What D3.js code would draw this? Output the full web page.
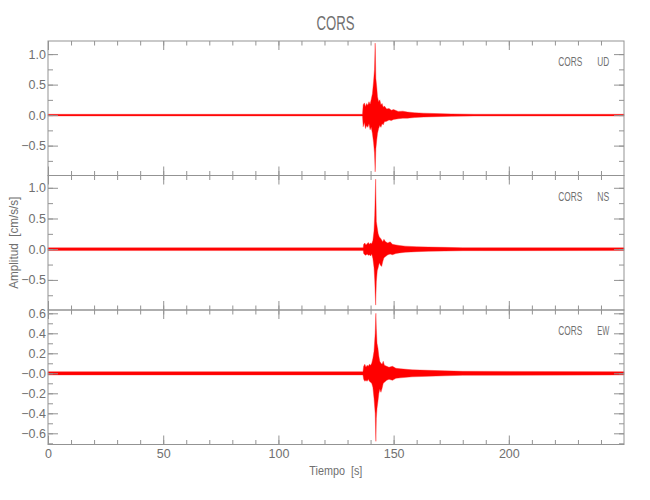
<!DOCTYPE html>
<html><head><meta charset="utf-8">
<script src="https://cdn.jsdelivr.net/npm/d3@7"></script>
<style>
body{margin:0;background:#fff}
text{font-family:"Liberation Sans Narrow","Liberation Sans",sans-serif;fill:#707070}
</style>
</head><body><svg id="c" width="650" height="500"></svg>
<script>
// ---------- data ----------
const title = "CORS";
const station = "CORS";
const channels = ["UD", "NS", "EW"];
const xLabel = "Tiempo  [s]";
const yLabel = "Amplitud  [cm/s/s]";
const xDomain = [0, 249.99];
const xMajorTicks = [0, 50, 100, 150, 200];
const xMajorLabels = ["0", "50", "100", "150", "200"];
const xMinorTicks = [0,10,20,30,40,50,60,70,80,90,100,110,120,130,140,150,160,170,180,190,200,210,220,230,240];

const yDomainUD = [-0.99, 1.215];
const yDomainNS = [-0.99, 1.2];
const yDomainEW = [-0.712, 0.633];
const yMajorUD = [-0.5, 0, 0.5, 1.0];
const yLabelsUD = ["\u22120.5", "0.0", "0.5", "1.0"];
const yMinorUD = [-0.75, -0.5, -0.25, 0, 0.25, 0.5, 0.75, 1.0];
const yMajorNS = [-0.5, 0, 0.5, 1.0];
const yLabelsNS = ["\u22120.5", "0.0", "0.5", "1.0"];
const yMinorNS = [-0.75, -0.5, -0.25, 0, 0.25, 0.5, 0.75, 1.0];
const yMajorEW = [-0.6, -0.4, -0.2, 0, 0.2, 0.4, 0.6];
const yLabelsEW = ["\u22120.6", "\u22120.4", "\u22120.2", "\u22120.0", "0.2", "0.4", "0.6"];
const yMinorEW = [-0.7, -0.6, -0.5, -0.4, -0.3, -0.2, -0.1, 0, 0.1, 0.2, 0.3, 0.4, 0.5, 0.6];

// trace envelopes (time [s], upper, lower) read from the record
const tUD  = [0, 136.5, 136.8, 137.3, 137.8, 138.3, 138.8, 139.3, 139.8, 140.3, 140.8, 141.3, 141.7, 142.0, 142.3, 142.7, 143.0, 143.5, 144.0, 144.5, 145.0, 145.5, 146.0, 147.0, 148.0, 149.0, 150.0, 152.0, 154.0, 156.0, 159.0, 163.0, 168.0, 175.0, 185.0, 249.99];
const hiUD = [0.013, 0.013, 0.17, 0.20, 0.14, 0.19, 0.16, 0.22, 0.18, 0.26, 0.35, 0.55, 0.75, 1.18, 0.60, 0.45, 0.30, 0.22, 0.25, 0.17, 0.19, 0.13, 0.15, 0.10, 0.11, 0.08, 0.09, 0.06, 0.065, 0.05, 0.04, 0.032, 0.026, 0.02, 0.014, 0.013];
const loUD = [-0.013, -0.013, -0.19, -0.12, -0.22, -0.17, -0.20, -0.14, -0.24, -0.20, -0.30, -0.45, -0.62, -0.93, -0.55, -0.40, -0.30, -0.22, -0.17, -0.20, -0.14, -0.16, -0.11, -0.10, -0.08, -0.09, -0.07, -0.06, -0.05, -0.05, -0.04, -0.032, -0.026, -0.02, -0.014, -0.013];

const tNS  = [0, 136.8, 137.0, 137.5, 138.0, 138.5, 139.0, 139.5, 140.0, 140.5, 141.0, 141.5, 141.8, 142.2, 142.5, 142.9, 143.3, 143.8, 144.3, 144.8, 145.3, 145.8, 146.5, 147.5, 148.5, 149.5, 151.0, 152.5, 155.0, 160.0, 165.0, 172.0, 180.0, 249.99];
const hiNS = [0.022, 0.022, 0.08, 0.10, 0.07, 0.09, 0.11, 0.08, 0.10, 0.09, 0.14, 0.30, 0.55, 1.14, 0.45, 0.35, 0.25, 0.20, 0.18, 0.15, 0.12, 0.16, 0.12, 0.10, 0.12, 0.08, 0.07, 0.06, 0.05, 0.04, 0.035, 0.03, 0.024, 0.022];
const loNS = [-0.022, -0.022, -0.07, -0.09, -0.10, -0.08, -0.10, -0.09, -0.11, -0.08, -0.15, -0.30, -0.50, -0.91, -0.53, -0.35, -0.30, -0.22, -0.26, -0.28, -0.20, -0.14, -0.12, -0.09, -0.08, -0.09, -0.07, -0.06, -0.05, -0.04, -0.035, -0.03, -0.024, -0.022];

const tEW  = [0, 136.7, 137.0, 137.5, 138.0, 138.5, 139.0, 139.5, 140.0, 140.5, 141.0, 141.5, 142.0, 142.3, 142.5, 142.8, 143.2, 143.6, 144.0, 144.5, 145.0, 145.5, 146.0, 147.0, 148.0, 149.5, 151.0, 153.0, 158.0, 165.0, 172.0, 180.0, 249.99];
const hiEW = [0.016, 0.016, 0.07, 0.09, 0.06, 0.08, 0.07, 0.09, 0.08, 0.10, 0.15, 0.22, 0.40, 0.60, 0.45, 0.30, 0.25, 0.17, 0.12, 0.10, 0.09, 0.12, 0.08, 0.07, 0.06, 0.07, 0.05, 0.045, 0.035, 0.03, 0.025, 0.02, 0.016];
const loEW = [-0.016, -0.016, -0.06, -0.08, -0.07, -0.08, -0.06, -0.08, -0.09, -0.10, -0.14, -0.25, -0.40, -0.68, -0.45, -0.35, -0.28, -0.20, -0.16, -0.19, -0.15, -0.10, -0.09, -0.07, -0.06, -0.07, -0.05, -0.045, -0.035, -0.03, -0.025, -0.02, -0.016];

// ---------- drawing ----------
const svg = d3.select("#c");
const left = 48, right = 624, top0 = 41, ph = 134.5;
const axisColor = "#939393";
const x = d3.scaleLinear().domain(xDomain).range([left, right]);

const panels = [
  {ch: channels[0], dom: yDomainUD, maj: yMajorUD, lab: yLabelsUD, min: yMinorUD, t: tUD, hi: hiUD, lo: loUD},
  {ch: channels[1], dom: yDomainNS, maj: yMajorNS, lab: yLabelsNS, min: yMinorNS, t: tNS, hi: hiNS, lo: loNS},
  {ch: channels[2], dom: yDomainEW, maj: yMajorEW, lab: yLabelsEW, min: yMinorEW, t: tEW, hi: hiEW, lo: loEW}
];

function styleAxis(g) {
  g.select(".domain").remove();
  g.selectAll(".tick line").attr("stroke", axisColor);
  g.selectAll(".tick text").attr("fill", "#767676").style("font-size", "12.5px")
   .style("font-family", '"Liberation Sans Narrow","Liberation Sans",sans-serif');
}

panels.forEach((p, i) => {
  const y0 = top0 + i * ph, y1 = y0 + ph;
  const y = d3.scaleLinear().domain(p.dom).range([y1, y0]);
  const g = svg.append("g");

  // trace
  const pts = p.t.map((t, k) => ({t, hi: p.hi[k], lo: p.lo[k]}));
  g.append("path").datum(pts)
    .attr("d", d3.area().x(d => x(d.t)).y0(d => y(d.lo)).y1(d => y(d.hi)))
    .attr("fill", "#ff0000").attr("stroke", "#ff2020").attr("stroke-width", 0.4)
    .attr("stroke-linejoin", "round");

  // y axes
  g.append("g").attr("transform", `translate(${left},0)`)
    .call(d3.axisLeft(y).tickValues(p.maj).tickSize(-10).tickPadding(2).tickFormat((d, k) => p.lab[k])).call(styleAxis);
  g.append("g").attr("transform", `translate(${left},0)`)
    .call(d3.axisLeft(y).tickValues(p.min).tickSize(-5).tickFormat("")).call(styleAxis);
  g.append("g").attr("transform", `translate(${right},0)`)
    .call(d3.axisRight(y).tickValues(p.maj).tickSize(-10).tickFormat("")).call(styleAxis);
  g.append("g").attr("transform", `translate(${right},0)`)
    .call(d3.axisRight(y).tickValues(p.min).tickSize(-5).tickFormat("")).call(styleAxis);

  // x axes
  g.append("g").attr("transform", `translate(0,${y0})`)
    .call(d3.axisTop(x).tickValues(xMajorTicks).tickSize(-9).tickFormat("")).call(styleAxis);
  g.append("g").attr("transform", `translate(0,${y0})`)
    .call(d3.axisTop(x).tickValues(xMinorTicks).tickSize(-4.5).tickFormat("")).call(styleAxis);
  const isLast = i === panels.length - 1;
  g.append("g").attr("transform", `translate(0,${y1})`)
    .call(d3.axisBottom(x).tickValues(xMajorTicks).tickSize(-9).tickPadding(4.8)
      .tickFormat((d, k) => isLast ? xMajorLabels[k] : "")).call(styleAxis);
  g.append("g").attr("transform", `translate(0,${y1})`)
    .call(d3.axisBottom(x).tickValues(xMinorTicks).tickSize(-4.5).tickFormat("")).call(styleAxis);

  // frame
  g.append("rect").attr("x", left).attr("y", y0).attr("width", right - left).attr("height", ph)
    .attr("fill", "none").attr("stroke", axisColor).attr("stroke-width", 1);

  // panel label
  g.append("text").attr("x", 558.3).attr("y", y0 + 25).style("font-size", "13px")
    .attr("textLength", 24).attr("lengthAdjust", "spacingAndGlyphs").text(station);
  g.append("text").attr("x", 597.3).attr("y", y0 + 25).style("font-size", "13px")
    .attr("textLength", 12).attr("lengthAdjust", "spacingAndGlyphs").text(p.ch);
});

// title and axis titles
svg.append("text").attr("x", 335.5).attr("y", 30).attr("text-anchor", "middle")
  .style("font-size", "21px").attr("textLength", 38).attr("lengthAdjust", "spacingAndGlyphs").text(title);
svg.append("text").attr("x", 335.8).attr("y", 475).attr("text-anchor", "middle").attr("xml:space", "preserve")
  .style("font-size", "13px").style("white-space", "pre").attr("textLength", 53).attr("lengthAdjust", "spacingAndGlyphs").text(xLabel);
svg.append("text").attr("transform", "translate(17.5,242.7) rotate(-90)").attr("text-anchor", "middle")
  .style("font-size", "13px").style("white-space", "pre").attr("textLength", 92).attr("lengthAdjust", "spacingAndGlyphs").text(yLabel);
</script>
</body></html>
